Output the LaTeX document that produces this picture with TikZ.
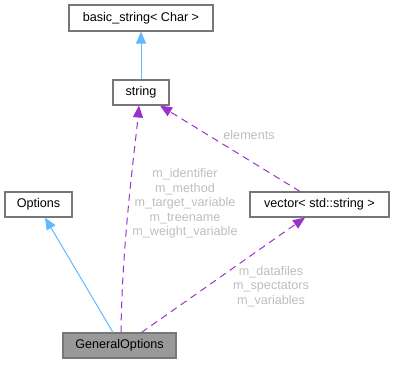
\documentclass[tikz,border=0pt]{standalone}
\usepackage{fontspec}
\setmainfont{Liberation Sans}
\usetikzlibrary{arrows.meta,calc}
\definecolor{boxline}{HTML}{777777}
\definecolor{gofill}{HTML}{999999}
\definecolor{inhblue}{HTML}{63B8FF}
\definecolor{usepurple}{HTML}{9A32CD}
\definecolor{lblgray}{HTML}{BEBEBE}
\tikzset{
  cls/.style={draw=boxline, line width=1.1pt, fill=white, inner sep=0pt, minimum height=25pt, font=\fontsize{12.6}{14.5}\selectfont},
  inh/.style={draw=inhblue, line width=1pt, -{Triangle[length=12pt,width=10pt,fill=inhblue]}},
  usage/.style={draw=usepurple, line width=1pt, dash pattern=on 7pt off 5pt, -{Triangle[length=12pt,width=10pt,fill=usepurple]}},
  lbl/.style={text=lblgray, align=center, inner sep=0pt, font=\fontsize{12.6}{14.6}\selectfont}
}
\begin{document}
\begin{tikzpicture}[x=1pt,y=-1pt]
\useasboundingbox (0,0) rectangle (395,364);
\node[cls, minimum width=144pt, minimum height=26pt] (bs) at (141,18) {basic\_string< Char >};
\node[cls, minimum width=56pt] (str) at (141,92.5) {string};
\node[cls, minimum width=67pt] (opt) at (38.5,204.5) {Options};
\node[cls, minimum width=139pt] (vec) at (319.5,204.5) {vector< std::string >};
\node[cls, minimum width=113pt, fill=gofill] (go) at (119.5,345.5) {GeneralOptions};
\draw[inh] (str.north) -- (bs.south);
\draw[inh] ([xshift=-6.5pt]go.north) -- ([xshift=6.5pt]opt.south);
\draw[usage] ([xshift=1.5pt]go.north) .. controls (122,240) and (136,140) .. ([xshift=-2pt]str.south);
\draw[usage] ([xshift=22pt]go.north) -- ([xshift=-14.5pt]vec.south);
\draw[usage] ([xshift=-19.5pt]vec.north) -- ([xshift=19pt]str.south);
\node[lbl] (lelem) at (249,135) {elements};
\node[lbl] (lstr) at (185,203.5) {m\_identifier\\m\_method\\m\_target\_variable\\m\_treename\\m\_weight\_variable};
\node[lbl] (lvec) at (271,286.5) {m\_datafiles\\m\_spectators\\m\_variables};
\end{tikzpicture}
\end{document}
